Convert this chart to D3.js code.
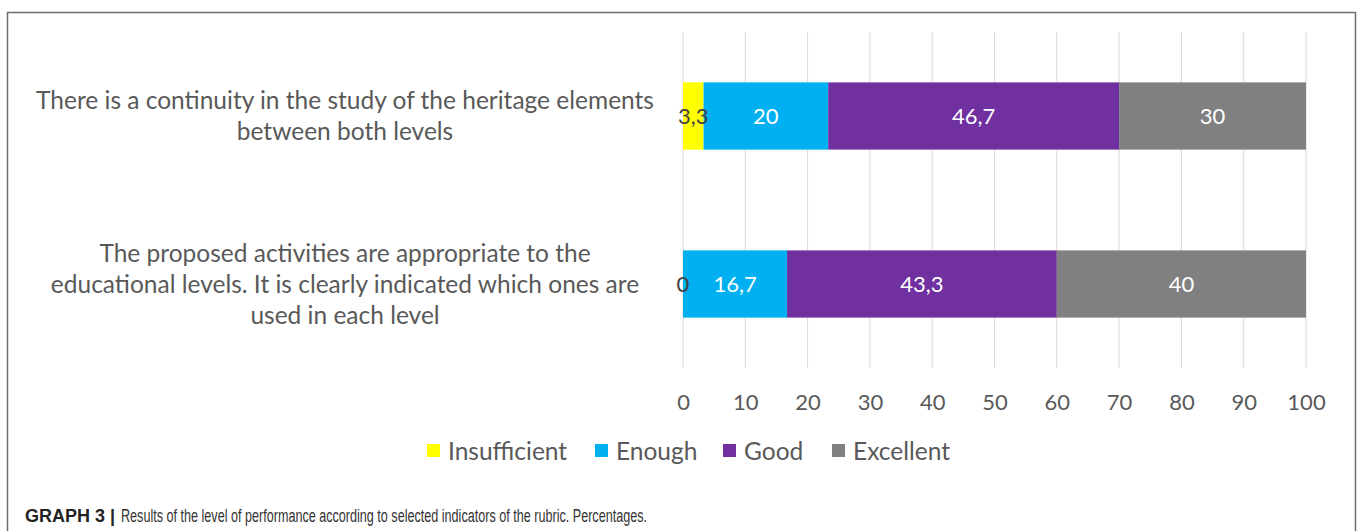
<!DOCTYPE html>
<html><head><meta charset="utf-8">
<script src="https://cdn.jsdelivr.net/npm/d3@7"></script>
<style>
html,body{margin:0;padding:0;background:#fff;}
svg{display:block;}
</style></head>
<body>
<svg id="chart" width="1357" height="531"></svg>
<script>
const categories = [
  ["There is a continuity in the study of the heritage elements", "between both levels"],
  ["The proposed activities are appropriate to the", "educational levels. It is clearly indicated which ones are", "used in each  level"]
];
const seriesNames = ["Insufficient", "Enough", "Good", "Excellent"];
const insufficient = [3.3, 0];
const enough = [20, 16.7];
const good = [46.7, 43.3];
const excellent = [30, 40];
const xTicks = [0,10,20,30,40,50,60,70,80,90,100];
const colors = ["#FFFF00", "#00B0F0", "#7030A0", "#808080"];
const labelColors = ["#404040", "#ffffff", "#ffffff", "#ffffff"];

const seriesValues = [insufficient, enough, good, excellent];
const rows = categories.map((c, i) => {
  const r = {idx: i};
  seriesNames.forEach((s, j) => r[s] = seriesValues[j][i]);
  return r;
});

const svg = d3.select("#chart");
const textFont = "Lato, 'Open Sans', sans-serif";

// outer frame
svg.append("rect").attr("x", 7.5).attr("y", 12.5).attr("width", 1348).attr("height", 530)
  .attr("fill", "none").attr("stroke", "#6d6d6d").attr("stroke-width", 1.5);

const x = d3.scaleLinear().domain([0, 100]).range([683, 1306]);
const y = d3.scaleBand().domain(d3.range(categories.length)).range([32, 368])
  .paddingInner(0.6).paddingOuter(0.3);

// gridlines
svg.append("g").selectAll("line").data(xTicks).join("line")
  .attr("x1", d => x(d)).attr("x2", d => x(d))
  .attr("y1", 32).attr("y2", 368)
  .attr("stroke", "#d9d9d9").attr("stroke-width", 1);

// stacked bars
const stack = d3.stack().keys(seriesNames)(rows);
const layers = svg.append("g").selectAll("g").data(stack).join("g")
  .attr("fill", (d, i) => colors[i]);
layers.selectAll("rect").data(d => d).join("rect")
  .attr("x", d => x(d[0]))
  .attr("width", d => x(d[1]) - x(d[0]))
  .attr("y", d => y(d.data.idx))
  .attr("height", y.bandwidth());

// data labels
stack.forEach((layer, i) => {
  svg.append("g").selectAll("text").data(layer).join("text")
    .attr("x", d => (x(d[0]) + x(d[1])) / 2)
    .attr("y", d => y(d.data.idx) + y.bandwidth() / 2)
    .attr("dy", "0.35em")
    .attr("text-anchor", "middle")
    .attr("font-family", textFont)
    .attr("font-size", 22)
    .attr("fill", labelColors[i])
    .text(d => String(d[1] - d[0] === 0 ? 0 : +(d[1] - d[0]).toFixed(1)).replace(".", ","));
});

// x axis tick labels
const xAxis = d3.axisBottom(x).tickValues(xTicks).tickSize(0).tickPadding(0);
const gx = svg.append("g").attr("transform", "translate(0,394)").call(xAxis);
gx.select(".domain").remove();
gx.selectAll("text").attr("font-family", textFont).attr("font-size", 22).attr("fill", "#595959");

// category labels
categories.forEach((lines, i) => {
  const cy = y(i) + y.bandwidth() / 2;
  const lh = 31;
  const t = svg.append("text").attr("text-anchor", "middle")
    .attr("font-family", textFont).attr("font-size", 24.5).attr("fill", "#595959");
  lines.forEach((ln, k) => {
    t.append("tspan").attr("x", 345).attr("y", cy + (k - (lines.length - 1) / 2) * lh).attr("dy", "0.35em").text(ln);
  });
});

// legend
const legendX = [427, 595, 723, 832];
const lg = svg.append("g");
seriesNames.forEach((s, i) => {
  lg.append("rect").attr("x", legendX[i]).attr("y", 444).attr("width", 13).attr("height", 13).attr("fill", colors[i]);
  lg.append("text").attr("x", legendX[i] + 21).attr("y", 451).attr("dy", "0.35em")
    .attr("font-family", textFont).attr("font-size", 24.5).attr("fill", "#595959").text(s);
});

// caption
svg.append("text").attr("x", 25).attr("y", 522)
  .attr("font-family", "'Liberation Sans', Arial, sans-serif").attr("font-weight", "bold")
  .attr("font-size", 18).attr("fill", "#222").text("GRAPH 3 |");
svg.append("text").attr("x", 121).attr("y", 522)
  .attr("font-family", "'Liberation Sans', Arial, sans-serif")
  .attr("font-size", 18).attr("fill", "#333")
  .attr("textLength", 526).attr("lengthAdjust", "spacingAndGlyphs")
  .text("Results of the level of performance according to selected indicators of the rubric. Percentages.");
</script>
</body></html>
